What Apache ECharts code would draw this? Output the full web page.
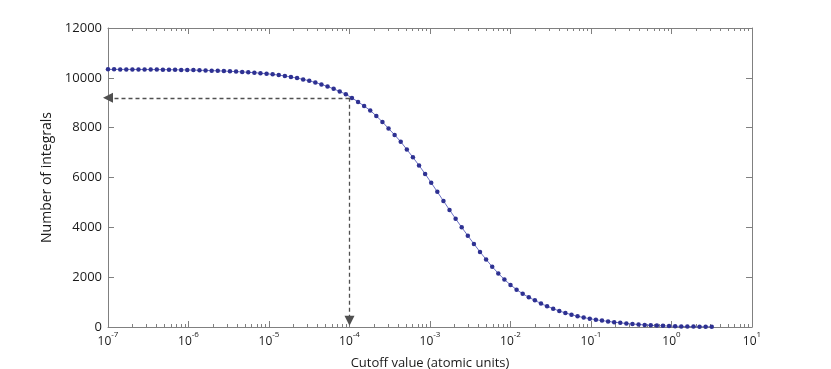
<!DOCTYPE html>
<html>
<head>
<meta charset="utf-8">
<script src="https://cdn.jsdelivr.net/npm/echarts@6/dist/echarts.min.js"></script>
<style>
  html, body { margin: 0; padding: 0; background: #fff; }
  #chart { width: 831px; height: 369px; }
</style>
</head>
<body>
<div id="chart"></div>
<script>
// cutoff values (atomic units), log spaced
const cutoff = [
  1.000e-7, 1.190e-7, 1.417e-7, 1.688e-7, 2.009e-7, 2.392e-7, 2.848e-7, 3.391e-7, 4.037e-7, 4.806e-7,
  5.722e-7, 6.813e-7, 8.111e-7, 9.657e-7, 1.150e-6, 1.369e-6, 1.630e-6, 1.940e-6, 2.310e-6, 2.750e-6,
  3.274e-6, 3.898e-6, 4.642e-6, 5.526e-6, 6.579e-6, 7.833e-6, 9.326e-6, 1.110e-5, 1.322e-5, 1.574e-5,
  1.874e-5, 2.231e-5, 2.656e-5, 3.162e-5, 3.765e-5, 4.482e-5, 5.337e-5, 6.354e-5, 7.565e-5, 9.006e-5,
  1.072e-4, 1.277e-4, 1.520e-4, 1.810e-4, 2.154e-4, 2.565e-4, 3.054e-4, 3.636e-4, 4.329e-4, 5.154e-4,
  6.136e-4, 7.305e-4, 8.697e-4, 1.035e-3, 1.233e-3, 1.468e-3, 1.748e-3, 2.081e-3, 2.477e-3, 2.949e-3,
  3.511e-3, 4.180e-3, 4.977e-3, 5.926e-3, 7.055e-3, 8.399e-3, 1.000e-2, 1.190e-2, 1.417e-2, 1.688e-2,
  2.009e-2, 2.392e-2, 2.848e-2, 3.391e-2, 4.037e-2, 4.806e-2, 5.722e-2, 6.813e-2, 8.111e-2, 9.657e-2,
  1.150e-1, 1.369e-1, 1.630e-1, 1.940e-1, 2.310e-1, 2.750e-1, 3.274e-1, 3.898e-1, 4.642e-1, 5.526e-1,
  6.579e-1, 7.833e-1, 9.326e-1, 1.110, 1.322, 1.574, 1.874, 2.231, 2.656, 3.162
];
// number of integrals at each cutoff
const integrals = [
  10340, 10340, 10339, 10338, 10337, 10336, 10335, 10333, 10331, 10329,
  10326, 10323, 10319, 10315, 10310, 10304, 10297, 10289, 10280, 10272,
  10262, 10250, 10236, 10222, 10206, 10188, 10166, 10140, 10110, 10075,
  10035, 9990, 9938, 9880, 9812, 9737, 9652, 9558, 9455, 9340,
  9195, 9035, 8870, 8690, 8470, 8230, 7965, 7710, 7435, 7125,
  6810, 6485, 6145, 5790, 5425, 5060, 4700, 4345, 4000, 3665,
  3335, 3015, 2710, 2420, 2150, 1905, 1690, 1500, 1335, 1190,
  1070, 940, 830, 735, 640, 565, 495, 432, 380, 334,
  292, 256, 224, 194, 166, 141, 120, 100, 83, 68,
  56, 46, 38, 31, 25, 20, 16, 13, 10, 8
];
// x tick label exponents
const xExponents = ['-7', '-6', '-5', '-4', '-3', '-2', '-1', '0', '1'];
// minor ticks on the log axis
const minorMantissas = [2, 3, 4, 5, 6, 7, 8, 9];
const minorDecades = [1e-7, 1e-6, 1e-5, 1e-4, 1e-3, 1e-2, 1e-1, 1];
// dashed guide: cutoff 1e-4 -> ~9200 integrals
const guideX = 1e-4;
const guideY = 9200;
const guideStartX = 1e-7;
const guideEndY = 250;

const minorTicks = [];
minorDecades.forEach(d => minorMantissas.forEach(m => minorTicks.push([m * d, 0])));

const font = "'Open Sans', sans-serif";
const axisGray = '#808080';
const textColor = '#1a1a1a';

const chart = echarts.init(document.getElementById('chart'));
chart.setOption({
  animation: false,
  textStyle: { fontFamily: font, color: textColor },
  grid: { left: 108, right: 79, top: 28, bottom: 42, outerBoundsMode: 'none' },
  xAxis: [
    {
      type: 'log', logBase: 10, min: 1e-7, max: 10, interval: 1,
      name: 'Cutoff value (atomic units)', nameLocation: 'middle', nameGap: 30,
      nameTextStyle: { fontSize: 13, color: textColor, fontFamily: font },
      axisLine: { onZero: false, lineStyle: { color: axisGray, width: 1 } },
      axisTick: { inside: true, length: 6, lineStyle: { color: axisGray } },
      splitLine: { show: false },
      axisLabel: {
        margin: 4,
        formatter: (v, i) => '{b|10}{s|' + xExponents[i] + '}',
        rich: {
          b: { fontSize: 12, color: textColor, fontFamily: font, lineHeight: 17, verticalAlign: 'bottom' },
          s: { fontSize: 8, color: textColor, fontFamily: font, lineHeight: 9, verticalAlign: 'top' }
        }
      }
    },
    {
      type: 'log', logBase: 10, min: 1e-7, max: 10, interval: 1, position: 'top',
      axisLine: { onZero: false, lineStyle: { color: axisGray, width: 1 } },
      axisTick: { inside: true, length: 6, lineStyle: { color: axisGray } },
      axisLabel: { show: false },
      splitLine: { show: false }
    }
  ],
  yAxis: [
    {
      type: 'value', min: 0, max: 12000, interval: 2000,
      name: 'Number of integrals', nameLocation: 'middle', nameGap: 42,
      nameTextStyle: { fontSize: 14, color: textColor, fontFamily: font },
      axisLine: { show: true, onZero: false, lineStyle: { color: axisGray, width: 1 } },
      axisTick: { show: true, inside: true, length: 6, lineStyle: { color: axisGray } },
      axisLabel: { margin: 6, fontSize: 13, color: textColor, fontFamily: font, formatter: v => String(v) },
      splitLine: { show: false }
    },
    {
      type: 'value', min: 0, max: 12000, interval: 2000, position: 'right',
      axisLine: { show: true, onZero: false, lineStyle: { color: axisGray, width: 1 } },
      axisTick: { show: true, inside: true, length: 6, lineStyle: { color: axisGray } },
      axisLabel: { show: false },
      splitLine: { show: false }
    }
  ],
  series: [
    {
      type: 'custom',
      silent: true,
      xAxisIndex: 0, yAxisIndex: 0,
      data: minorTicks,
      renderItem: (params, api) => {
        const x = Math.round(api.coord([api.value(0), 0])[0]) + 0.5;
        const cs = params.coordSys;
        const style = { stroke: axisGray, lineWidth: 1 };
        return {
          type: 'group',
          children: [
            { type: 'line', shape: { x1: x, y1: cs.y + cs.height, x2: x, y2: cs.y + cs.height - 3 }, style },
            { type: 'line', shape: { x1: x, y1: cs.y, x2: x, y2: cs.y + 3 }, style }
          ]
        };
      }
    },
    {
      type: 'line',
      data: cutoff.map((x, i) => [x, integrals[i]]),
      symbol: 'circle',
      symbolSize: 4.5,
      showSymbol: true,
      lineStyle: { color: '#6b70c4', width: 1 },
      itemStyle: { color: '#2e3192' },
      emphasis: { disabled: true },
      z: 3,
      markLine: {
        silent: true,
        symbol: ['none', 'triangle'],
        symbolSize: 10,
        label: { show: false },
        lineStyle: { color: '#505050', type: [4, 3], width: 1.3, opacity: 1 },
        emphasis: { disabled: true },
        data: [
          [{ coord: [guideX, guideY] }, { coord: [guideStartX, guideY] }],
          [{ coord: [guideX, guideY] }, { coord: [guideX, guideEndY] }]
        ]
      }
    }
  ]
});
</script>
</body>
</html>
